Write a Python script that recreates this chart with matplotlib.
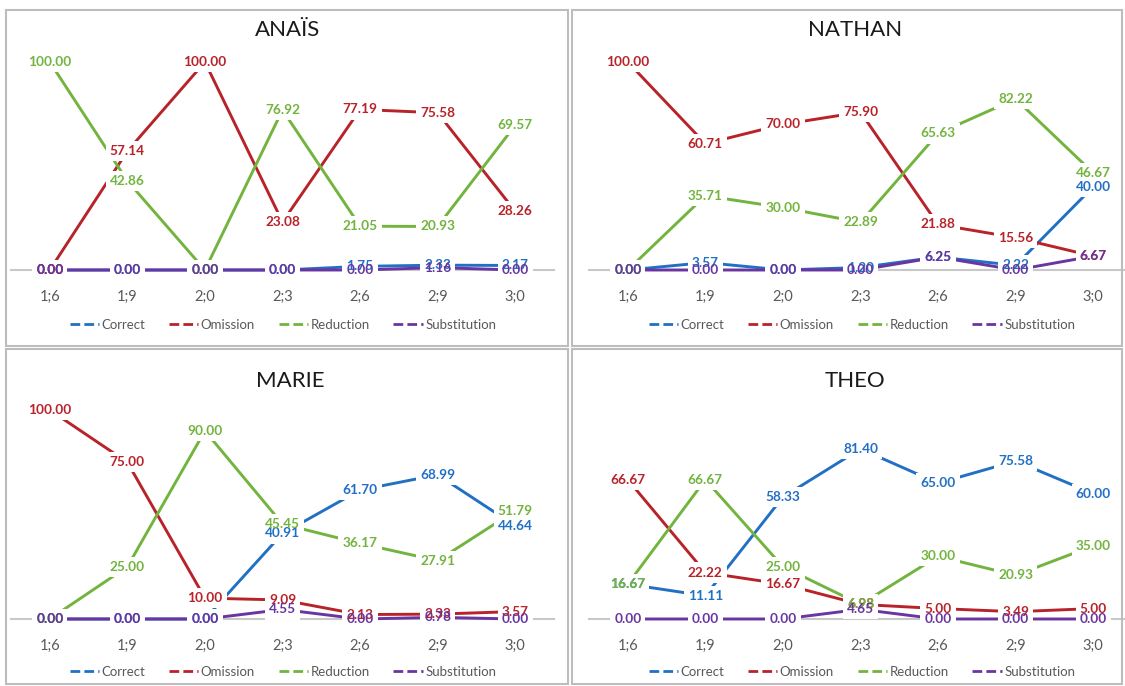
import matplotlib
matplotlib.use("Agg")
import matplotlib.pyplot as plt
from matplotlib.lines import Line2D
from matplotlib.patches import Rectangle

plt.rcParams['font.family'] = ['Lato', 'DejaVu Sans']

ages = ["1;6", "1;9", "2;0", "2;3", "2;6", "2;9", "3;0"]
series_names = ["Correct", "Omission", "Reduction", "Substitution"]

anais_correct = [0.00, 0.00, 0.00, 0.00, 1.75, 2.33, 2.17]
anais_omission = [0.00, 57.14, 100.00, 23.08, 77.19, 75.58, 28.26]
anais_reduction = [100.00, 42.86, 0.00, 76.92, 21.05, 20.93, 69.57]
anais_substitution = [0.00, 0.00, 0.00, 0.00, 0.00, 1.16, 0.00]

nathan_correct = [0.00, 3.57, 0.00, 1.20, 6.25, 2.22, 40.00]
nathan_omission = [100.00, 60.71, 70.00, 75.90, 21.88, 15.56, 6.67]
nathan_reduction = [0.00, 35.71, 30.00, 22.89, 65.63, 82.22, 46.67]
nathan_substitution = [0.00, 0.00, 0.00, 0.00, 6.25, 0.00, 6.67]

marie_correct = [0.00, 0.00, 0.00, 40.91, 61.70, 68.99, 44.64]
marie_omission = [100.00, 75.00, 10.00, 9.09, 2.13, 2.33, 3.57]
marie_reduction = [0.00, 25.00, 90.00, 45.45, 36.17, 27.91, 51.79]
marie_substitution = [0.00, 0.00, 0.00, 4.55, 0.00, 0.78, 0.00]

theo_correct = [16.67, 11.11, 58.33, 81.40, 65.00, 75.58, 60.00]
theo_omission = [66.67, 22.22, 16.67, 6.98, 5.00, 3.49, 5.00]
theo_reduction = [16.67, 66.67, 25.00, 6.98, 30.00, 20.93, 35.00]
theo_substitution = [0.00, 0.00, 0.00, 4.65, 0.00, 0.00, 0.00]

children = ["ANAÏS", "NATHAN", "MARIE", "THEO"]
data = {
    "ANAÏS": [anais_correct, anais_omission, anais_reduction, anais_substitution],
    "NATHAN": [nathan_correct, nathan_omission, nathan_reduction, nathan_substitution],
    "MARIE": [marie_correct, marie_omission, marie_reduction, marie_substitution],
    "THEO": [theo_correct, theo_omission, theo_reduction, theo_substitution],
}

colors = ["#2270C4", "#B8232A", "#72B43E", "#6A35A0"]

W, H = 1125, 686
fig = plt.figure(figsize=(W / 100, H / 100), dpi=100)
fig.patch.set_facecolor("white")

# panel frames (pixel coords: x0, y0_top, x1, y1_bottom)
frames = [(6, 10, 568, 346), (572, 10, 1122, 346), (6, 349, 568, 684), (572, 349, 1122, 684)]
for x0, y0, x1, y1 in frames:
    fig.patches.append(Rectangle((x0 / W, 1 - y1 / H), (x1 - x0) / W, (y1 - y0) / H,
                                 transform=fig.transFigure, fill=False,
                                 edgecolor="#BDBDBD", linewidth=1.5))

# axes placement: (left px of x=-0.5, zero-line px, 100-line px)
axes_pos = [(11, 270, 62), (589, 270, 62), (11, 619, 410), (589, 619, 410)]
title_pos = [(288, 30), (855, 30), (290, 381), (855, 381)]
legend_pos = [(283, 325), (862, 325), (283, 672), (862, 672)]

xs = list(range(len(ages)))
for i, name in enumerate(children):
    lx, y0px, y100px = axes_pos[i]
    ax = fig.add_axes([lx / W, 1 - y0px / H, 543 / W, (y0px - y100px) / H])
    ax.set_xlim(-0.5, 6.5)
    ax.set_ylim(0, 100)
    ax.set_facecolor("none")
    for s in ["top", "right", "left"]:
        ax.spines[s].set_visible(False)
    ax.spines["bottom"].set_color("#C8C8C8")
    ax.spines["bottom"].set_linewidth(1.5)
    ax.spines["bottom"].set_zorder(0.5)
    ax.set_yticks([])
    ax.set_xticks(xs)
    ax.set_xticklabels(ages, fontsize=10.5, color="#595959")
    ax.tick_params(axis="x", length=0, pad=14)
    for k, vals in enumerate(data[name]):
        ax.plot(xs, vals, color=colors[k], lw=2.1, clip_on=False, zorder=2 + k * 0.01,
                solid_joinstyle="round")
    # label backgrounds first, then texts
    for k, vals in enumerate(data[name]):
        for x, v in zip(xs, vals):
            ax.text(x, v, f"{v:.2f}", ha="center", va="center", fontsize=9.8,
                    fontweight="bold", color="none", zorder=3,
                    bbox=dict(boxstyle="square,pad=0.3", fc="white", ec="none"),
                    clip_on=False)
    for k, vals in enumerate(data[name]):
        for x, v in zip(xs, vals):
            ax.text(x, v, f"{v:.2f}", ha="center", va="center", fontsize=9.8,
                    fontweight="bold", color=colors[k], zorder=4, clip_on=False)
    tx, ty = title_pos[i]
    fig.text(tx / W, 1 - ty / H, name, ha="center", va="center", fontsize=16, color="#1a1a1a")
    handles = [Line2D([0], [0], color=c, lw=2, linestyle=(0, (3.5, 1.5))) for c in colors]
    gx, gy = legend_pos[i]
    fig.legend(handles, series_names, loc="center", bbox_to_anchor=(gx / W, 1 - gy / H),
               ncol=4, frameon=False, fontsize=9.5, handlelength=2.2, handletextpad=0.2,
               columnspacing=1.8, labelcolor="#595959")

fig.savefig("out.png", dpi=100, facecolor="white")
